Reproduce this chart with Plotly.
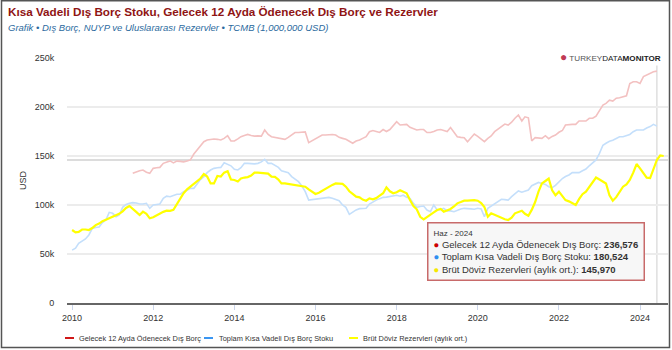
import pandas as pd
import plotly.graph_objects as go

# ---------------- data (thousand million USD) ----------------
red_start = "2011-07-01"
red_vals = [
    132.3, 134, 135, 135.7, 133.5, 132.3,
    137.4, 138, 138.4, 142.5, 144, 145, 143, 144.8, 144.5, 144, 145, 146,
    152, 156, 160, 164.6, 166.3, 167, 167.3, 167, 166.3, 168, 170.7, 165.3,
    165.3, 167.5, 169.7, 171, 172, 171, 170.3, 170.5, 170.3, 176.5, 172, 169.7,
    169, 168, 167, 167, 169, 171.4, 174, 174, 174, 174.6, 163.6, 165.5,
    168, 169.5, 171.4, 171.5, 172, 172, 171.4, 169, 168, 167, 165, 163,
    165.3, 166.3, 168, 169.7, 174.8, 176, 175, 174, 177, 175, 177, 181,
    185, 181.6, 182, 182.3, 179.3, 178, 176.5, 177, 177, 174, 174, 175,
    176.5, 177, 176, 175, 179, 174, 169.7, 169, 168.7, 164.6, 169, 172.4,
    170, 167, 164.6, 168, 170.4, 174.8, 177.5, 180.6, 182.6, 181.6, 184.5, 188.5,
    191.8, 185.7, 190, 189, 165.3, 168.7, 168.7, 168, 170.7, 167.7, 170, 171.4,
    174.2, 176, 181.6, 182.3, 182.3, 182.3, 185.7, 185.7, 185.7, 188.5, 188.5, 190.7,
    197, 202, 203.7, 207, 206, 209, 209.5, 210.5, 211.5, 224, 225.7, 225.7,
    224, 231, 232.6, 234, 236, 236.576,
]

blue_start = "2010-01-01"
blue_vals = [
    54, 56, 61, 63, 65.3, 69.4, 76, 77, 77.5, 82, 84.7, 92.5,
    91.5, 88, 89.8, 97.6, 100.5, 101.7, 102.4, 102, 101, 101, 101.7, 96.6,
    100, 100.5, 101, 106.8, 109, 108.5, 109.5, 111, 111, 113.6, 115, 117,
    117, 122, 126, 129, 133, 135.7, 137.4, 138, 138.4, 143, 141.5, 140,
    136.4, 135.7, 138, 142.5, 142.5, 142, 142, 142.5, 144, 146.6, 142.5, 142.5,
    140, 138.4, 135, 134, 133, 129, 126, 123.8, 119.4, 113.6, 105, 105.5,
    105.8, 106.5, 107, 107.5, 107.8, 106.8, 105.5, 104.4, 100, 97.6, 90.5, 93,
    95, 96.3, 96.5, 96.6, 101, 103.5, 105, 106.5, 107.8, 108, 108.5, 109.5,
    110, 109, 110, 108, 106.8, 101.7, 97.6, 98.5, 99, 94.9, 93.2, 100,
    94.9, 95.5, 96.6, 94, 94, 93.2, 94.9, 96, 96.6, 96.6, 96, 95.6,
    96.6, 96, 88, 96.6, 99, 101, 103.4, 105.8, 105.5, 105, 108.5, 111,
    114.3, 113, 114, 115.3, 119.7, 121.5, 123, 122, 121, 118.7, 117.7, 120,
    124, 127, 129, 130.6, 133, 133, 133, 135, 136.7, 140, 143, 146,
    152.7, 161, 163, 165, 166, 167.5, 169.7, 169.7, 170.5, 172, 174.8, 176.5,
    176.5, 176.5, 178.5, 180, 182.3, 180.524,
]

yellow_start = "2010-01-01"
yellow_vals = [
    74.5, 72, 72.5, 75, 75, 74.5, 76.5, 79.5, 81, 83.5, 85, 86.5,
    87.5, 89, 91, 93.5, 97, 99, 96.5, 93, 89.8, 93.2, 91, 86.4,
    87.5, 89.5, 91.5, 93, 94.2, 94, 95, 101, 106.8, 112, 116, 119,
    121.4, 124.8, 127, 131.6, 129, 122, 122, 129.6, 129, 133, 134.4, 126,
    125.5, 124, 127, 128, 128.5, 130, 133, 133, 132.5, 132, 132, 129,
    128.7, 126, 122, 122, 121.5, 121, 121, 120, 119.4, 118.7, 116, 113.6,
    111.3, 112.5, 114.6, 116.5, 118.7, 120.5, 122, 122, 121.5, 118.7, 114, 111.3,
    108.5, 107.8, 105.5, 104.4, 106.8, 105.8, 107, 109.5, 112, 118, 114, 112,
    113, 115, 113.5, 112, 105, 99, 95.6, 88, 85.4, 88, 89.8, 92.5,
    94.9, 96, 93.2, 94.5, 96, 98.5, 101.7, 103, 104.4, 104.4, 105, 105,
    104.4, 102, 98, 88, 91.5, 90, 88, 86.5, 85.4, 84.7, 87, 91.5,
    93, 94.2, 91, 89, 95, 103, 113.6, 122, 124.5, 127, 115, 110,
    113.6, 109, 105, 103.7, 101.7, 100, 106, 111, 113.6, 118, 123, 128,
    126, 124, 122, 110, 104.4, 108, 113, 118.7, 121, 125.5, 133, 141.8,
    137.4, 132, 127.9, 127.5, 137.4, 145.97, 150.5, 150,
]

series_names = [
    "Gelecek 12 Ayda Ödenecek Dış Borç",
    "Toplam Kısa Vadeli Dış Borç Stoku",
    "Brüt Döviz Rezervleri (aylık ort.)",
]
hover_label = "Haz - 2024"
hover_date = "2024-06-01"
year_ticks = [2010, 2012, 2014, 2016, 2018, 2020, 2022, 2024]
y_ticks = [0, 50000, 100000, 150000, 200000, 250000]
y_tick_text = ["0", "50k", "100k", "150k", "200k", "250k"]

# ---------------- build ----------------
def series(start, vals):
    d = pd.date_range(start, periods=len(vals), freq="MS")
    return d, [v * 1000 for v in vals]

rx, ry = series(red_start, red_vals)
bx, by = series(blue_start, blue_vals)
yx, yy = series(yellow_start, yellow_vals)

plot_colors = ["#f3c1c1", "#c4dffb", "#ffff00"]
legend_colors = ["#d01818", "#3a96f2", "#ffff00"]
plot_widths = [1.6, 1.6, 2.2]

fig = go.Figure()
for (x, y), c, w, n in zip([(rx, ry), (bx, by), (yx, yy)], plot_colors, plot_widths, series_names):
    fig.add_trace(go.Scatter(x=x, y=y, mode="lines", name=n, line=dict(color=c, width=w),
                             showlegend=False, hoverinfo="skip"))

FONT = "Liberation Sans, Arial, sans-serif"
L, R, T, B = 67, 4, 58, 47
W, H = 672, 350
pw, ph = W - L - R, H - T - B

def px(xp):
    return (xp - L) / pw

def py(yp):
    return (H - B - yp) / ph

hover_idx_r = list(rx).index(pd.Timestamp(hover_date))
hover_idx_b = list(bx).index(pd.Timestamp(hover_date))
hover_idx_y = list(yx).index(pd.Timestamp(hover_date))
hv = [ry[hover_idx_r], by[hover_idx_b], yy[hover_idx_y]]

shapes = [
    dict(type="line", xref="x", yref="paper", x0=hover_date, x1=hover_date, y0=0, y1=1,
         line=dict(color="#d6d6d6", width=1.2), layer="below"),
    dict(type="line", xref="paper", yref="y", x0=0, x1=1, y0=hv[2], y1=hv[2],
         line=dict(color="#dcdcdc", width=2), layer="below"),
    dict(type="rect", xref="paper", yref="paper", x0=px(1.5), x1=px(669.5),
         y0=py(347.5), y1=py(0.8), line=dict(color="#555555", width=1.5)),
]

tip_colors = ["#cc0000", "#2e8ef0", "#f5e800"]
tip_lines = [f"<span style='font-size:8px'>{hover_label}</span>"]
for n, c, v in zip(series_names, tip_colors, hv):
    tip_lines.append(f"<span style='color:{c}'>●</span> {n}: <b>{round(v):,}</b>")
tip_text = "<br>".join(tip_lines)

annotations = [
    dict(text="<b>Kısa Vadeli Dış Borç Stoku, Gelecek 12 Ayda Ödenecek Dış Borç ve Rezervler</b>",
         xref="paper", yref="paper", x=px(6), y=py(12), xanchor="left", yanchor="middle",
         showarrow=False, font=dict(family=FONT, size=11.7, color="#8f1414")),
    dict(text="<i>Grafik • Dış Borç, NUYP ve Uluslararası Rezervler • TCMB (1,000,000 USD)</i>",
         xref="paper", yref="paper", x=px(6), y=py(27), xanchor="left", yanchor="middle",
         showarrow=False, font=dict(family=FONT, size=9.5, color="#2b6a9e")),
    dict(text="USD", textangle=-90, xref="paper", yref="paper", x=px(23), y=py(180),
         xanchor="center", yanchor="middle", showarrow=False,
         font=dict(family=FONT, size=9, color="#333333")),
    dict(text="<span style='color:#c03a55;font-size:12px'>●</span> <span style='color:#555'>TURKEY</span>"
              "<span style='color:#222'>DATA</span><b>MONITOR</b>",
         xref="paper", yref="paper", x=px(663), y=py(57), xanchor="right", yanchor="middle",
         showarrow=False, bgcolor="white", borderpad=1,
         font=dict(family=FONT, size=8.1, color="#222222")),
    dict(text=tip_text, xref="paper", yref="paper", x=px(536), y=py(251),
         xanchor="center", yanchor="middle", align="left", showarrow=False,
         bgcolor="rgba(247,247,247,0.96)", bordercolor="#c86a6a", borderwidth=1.5,
         borderpad=5, font=dict(family=FONT, size=9.5, color="#333333")),
]

# hand-drawn legend (short line symbols like the reference)
legend_line_x = [(65, 74), (204, 213), (349, 358)]
legend_text_x = [77, 217, 361]
for name, c, (a, b), tx in zip(series_names, legend_colors, legend_line_x, legend_text_x):
    shapes.append(dict(type="line", xref="paper", yref="paper", x0=px(a), x1=px(b),
                       y0=py(338), y1=py(338), line=dict(color=c, width=2)))
    annotations.append(dict(text=name, xref="paper", yref="paper", x=px(tx), y=py(338),
                            xanchor="left", yanchor="middle", showarrow=False,
                            font=dict(family=FONT, size=7.4, color="#333333")))

fig.update_layout(
    width=W, height=H,
    margin=dict(l=L, r=R, t=T, b=B, autoexpand=False),
    paper_bgcolor="white", plot_bgcolor="white",
    font=dict(family=FONT, size=9, color="#333333"),
    showlegend=False,
    xaxis=dict(type="date", range=["2009-11-16", "2024-09-09"],
               tickvals=[f"{y}-01-01" for y in year_ticks],
               ticktext=[str(y) for y in year_ticks],
               showgrid=False, showline=True, linecolor="#666666", linewidth=2,
               ticks="outside", ticklen=5, tickcolor="#ccd6eb", tickwidth=1,
               tickfont=dict(family=FONT, size=9, color="#333333"), zeroline=False),
    yaxis=dict(range=[0, 250000], tickvals=y_ticks, ticktext=y_tick_text,
               showgrid=True, gridcolor="#ececec", gridwidth=1.5, zeroline=False,
               showline=False, ticks="outside", ticklen=10, tickcolor="rgba(0,0,0,0)",
               tickfont=dict(family=FONT, size=9, color="#333333")),
    shapes=shapes,
    annotations=annotations,
    hovermode=False,
)

fig.write_html("out.html")
